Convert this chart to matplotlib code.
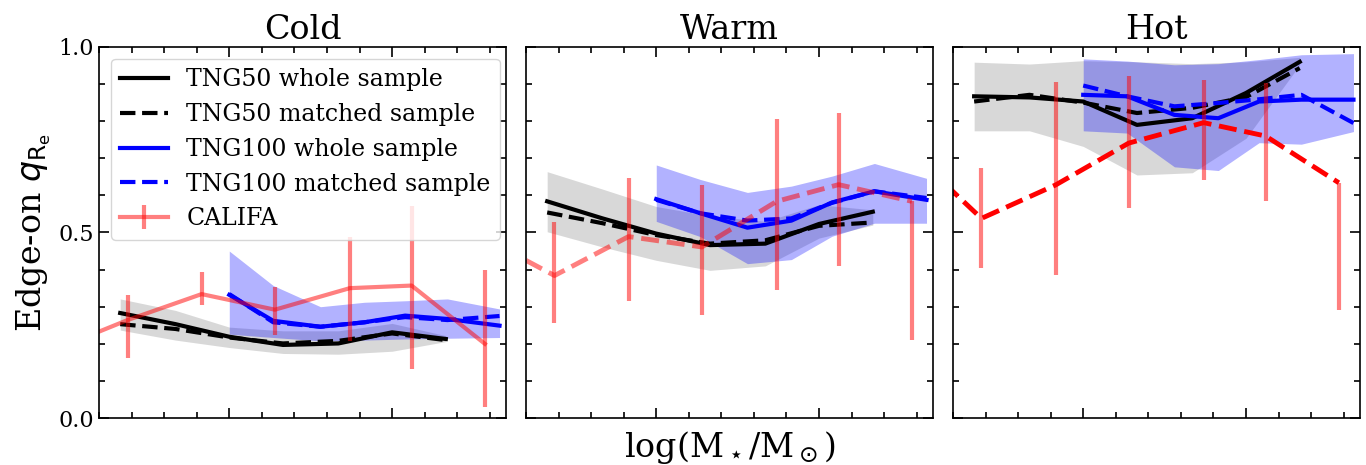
import numpy as np
import matplotlib
matplotlib.use("Agg")
import matplotlib.pyplot as plt
from matplotlib.ticker import MultipleLocator

plt.rcParams['font.family'] = 'serif'

# bin centres (log stellar mass)
x_tng50 = [9.33, 9.67, 10.0, 10.33, 10.67, 11.0, 11.33]
x_tng100 = [10.0, 10.27, 10.56, 10.83, 11.08, 11.34, 11.66]
x_califa = [8.92, 9.375, 9.83, 10.28, 10.74, 11.12, 11.57]

panels = ['Cold', 'Warm', 'Hot']

# TNG50
tng50_whole = {
    'Cold': [0.283, 0.253, 0.219, 0.197, 0.201, 0.231, 0.213],
    'Warm': [0.584, 0.538, 0.497, 0.466, 0.470, 0.523, 0.556],
    'Hot':  [0.867, 0.864, 0.853, 0.790, 0.808, 0.876, 0.960],
}
tng50_matched = {
    'Cold': [0.253, 0.240, 0.217, 0.201, 0.208, 0.228, 0.210],
    'Warm': [0.554, 0.525, 0.493, 0.470, 0.479, 0.518, 0.527],
    'Hot':  [0.853, 0.871, 0.850, 0.822, 0.836, 0.865, 0.943],
}
tng50_lo = {
    'Cold': [0.237, 0.210, 0.190, 0.174, 0.172, 0.180, 0.206],
    'Warm': [0.502, 0.461, 0.425, 0.398, 0.410, 0.485, 0.520],
    'Hot':  [0.774, 0.774, 0.732, 0.655, 0.661, 0.754, 0.952],
}
tng50_hi = {
    'Cold': [0.321, 0.290, 0.245, 0.235, 0.235, 0.255, 0.222],
    'Warm': [0.664, 0.617, 0.570, 0.545, 0.530, 0.575, 0.561],
    'Hot':  [0.959, 0.954, 0.963, 0.960, 0.955, 0.960, 0.972],
}

# TNG100
tng100_whole = {
    'Cold': [0.332, 0.262, 0.246, 0.258, 0.276, 0.267, 0.249],
    'Warm': [0.590, 0.552, 0.513, 0.532, 0.581, 0.611, 0.588],
    'Hot':  [0.871, 0.867, 0.817, 0.808, 0.853, 0.858, 0.858],
}
tng100_matched = {
    'Cold': [0.334, 0.258, 0.246, 0.258, 0.272, 0.264, 0.275],
    'Warm': [0.588, 0.552, 0.532, 0.538, 0.580, 0.611, 0.593],
    'Hot':  [0.896, 0.867, 0.840, 0.849, 0.859, 0.871, 0.795],
}
tng100_lo = {
    'Cold': [0.226, 0.217, 0.208, 0.210, 0.213, 0.215, 0.217],
    'Warm': [0.530, 0.489, 0.416, 0.427, 0.490, 0.525, 0.525],
    'Hot':  [0.774, 0.768, 0.677, 0.667, 0.742, 0.738, 0.772],
}
tng100_hi = {
    'Cold': [0.450, 0.357, 0.300, 0.312, 0.316, 0.321, 0.294],
    'Warm': [0.682, 0.643, 0.608, 0.625, 0.652, 0.686, 0.646],
    'Hot':  [0.968, 0.962, 0.952, 0.955, 0.966, 0.979, 0.982],
}

# CALIFA medians and percentile ranges
califa_q = {
    'Cold': [0.183, 0.264, 0.334, 0.292, 0.350, 0.357, 0.200],
    'Warm': [0.490, 0.384, 0.489, 0.461, 0.584, 0.629, 0.584],
    'Hot':  [0.726, 0.538, 0.628, 0.741, 0.796, 0.760, 0.634],
}
califa_lo = {
    'Cold': [0.100, 0.161, 0.305, 0.224, 0.208, 0.132, 0.031],
    'Warm': [0.400, 0.257, 0.316, 0.277, 0.345, 0.411, 0.210],
    'Hot':  [0.600, 0.405, 0.385, 0.565, 0.641, 0.585, 0.292],
}
califa_hi = {
    'Cold': [0.250, 0.332, 0.393, 0.352, 0.489, 0.571, 0.399],
    'Warm': [0.580, 0.529, 0.647, 0.629, 0.805, 0.821, 0.584],
    'Hot':  [0.800, 0.675, 0.905, 0.923, 0.910, 0.903, 0.634],
}

fig, axes = plt.subplots(1, 3, figsize=(13.66, 4.65), dpi=100, sharey=True)
fig.subplots_adjust(left=0.0725, right=0.9956, bottom=0.101, top=0.899, wspace=0.049)

for i, (ax, name) in enumerate(zip(axes, panels)):
    ax.fill_between(x_tng50, tng50_lo[name], tng50_hi[name], color='grey', alpha=0.3, lw=0)
    ax.fill_between(x_tng100, tng100_lo[name], tng100_hi[name], color='blue', alpha=0.3, lw=0)

    ax.plot(x_tng50, tng50_whole[name], color='k', lw=3, label='TNG50 whole sample')
    ax.plot(x_tng50, tng50_matched[name], color='k', lw=3, ls='--', label='TNG50 matched sample')
    ax.plot(x_tng100, tng100_whole[name], color='blue', lw=3, label='TNG100 whole sample')
    ax.plot(x_tng100, tng100_matched[name], color='blue', lw=3, ls='--', label='TNG100 matched sample')

    q = np.array(califa_q[name])
    yerr = [q - np.array(califa_lo[name]), np.array(califa_hi[name]) - q]
    if name == 'Cold':
        ax.errorbar(x_califa, q, yerr=yerr, color='red', alpha=0.5, lw=3,
                    elinewidth=3, capsize=0, label='CALIFA')
    else:
        ax.errorbar(x_califa, q, yerr=yerr, fmt='none', ecolor='red', alpha=0.5,
                    elinewidth=3, capsize=0)
        ax.plot(x_califa, q, color='red', lw=3.5, ls='--',
                alpha=0.5 if name == 'Warm' else 1.0)

    ax.set_xlim(9.2, 11.7)
    ax.set_ylim(0, 1)
    ax.xaxis.set_major_locator(MultipleLocator(1))
    ax.xaxis.set_minor_locator(MultipleLocator(0.2))
    ax.yaxis.set_major_locator(MultipleLocator(0.5))
    ax.yaxis.set_minor_locator(MultipleLocator(0.1))
    ax.tick_params(which='both', direction='in', top=True, right=True,
                   labelbottom=False, labelsize=16)
    ax.tick_params(which='major', length=7, width=1.2)
    ax.tick_params(which='minor', length=4.5, width=1.2)
    if i > 0:
        ax.tick_params(labelleft=False)
    for s in ax.spines.values():
        s.set_linewidth(1.2)
    ax.set_title(name, fontsize=24)

axes[0].set_ylabel(r'Edge-on $q_{\mathrm{R_e}}$', fontsize=24)
axes[1].set_xlabel(r'log(M$_\star$/M$_\odot$)', fontsize=24, labelpad=8)
axes[0].legend(loc='upper left', fontsize=17)

fig.savefig('out.png', dpi=100)
